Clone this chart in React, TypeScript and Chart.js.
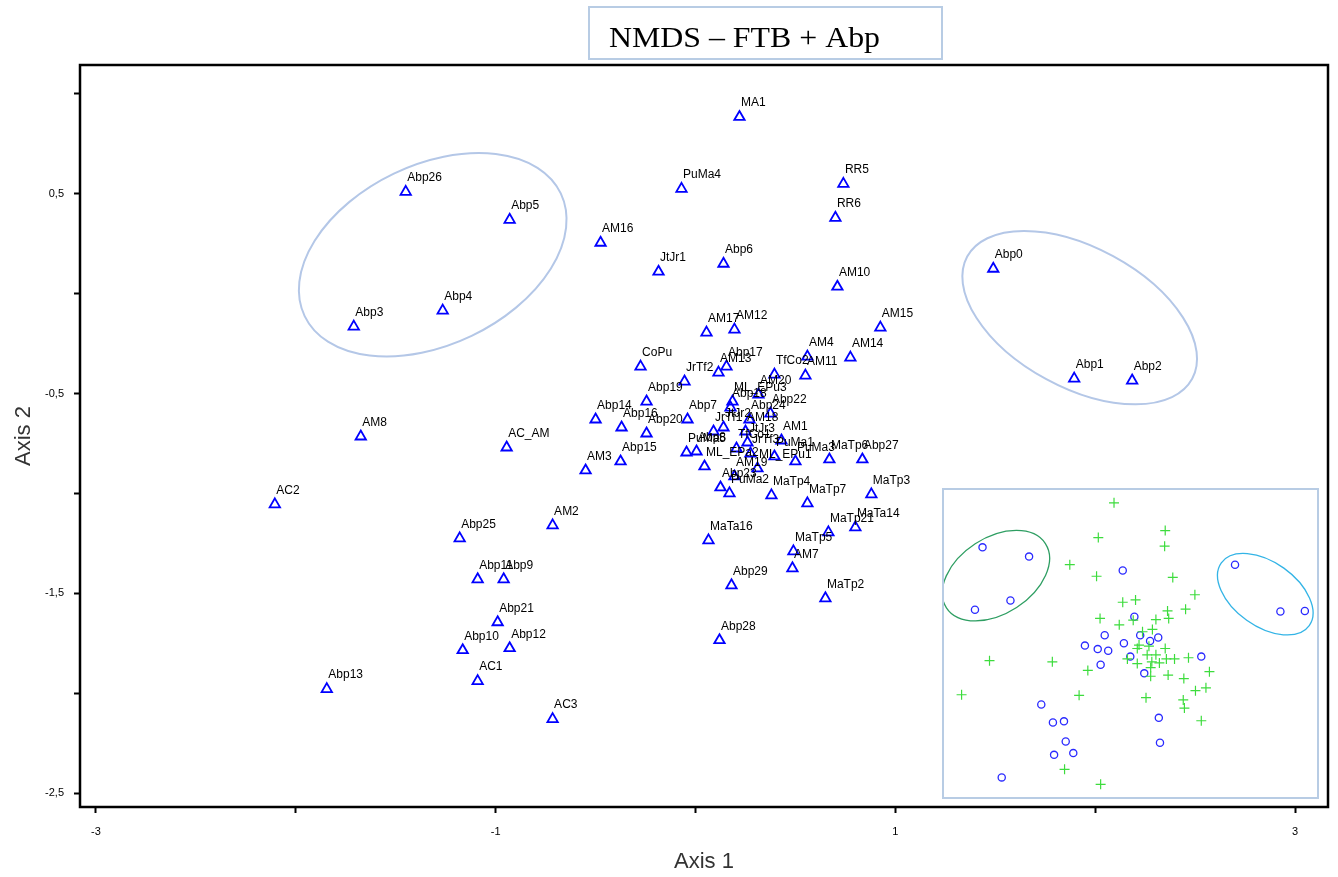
import React, { useEffect, useRef } from 'react';
import { Chart, registerables } from 'chart.js';
Chart.register(...registerables);

// ---------- main NMDS ordination (sites) ----------
const siteNames = [
  'MA1', 'PuMa4', 'RR5', 'RR6', 'Abp26', 'Abp5', 'AM16', 'JtJr1', 'Abp6', 'AM10',
  'Abp0', 'Abp4', 'Abp3', 'AM17', 'AM12', 'AM15', 'AM4', 'AM14', 'CoPu', 'Abp17',
  'AM13', 'TfCo2', 'AM11', 'Abp1', 'Abp2', 'JrTf2', 'Abp19', 'ML_EPu3', 'AM20', 'Abp18',
  'Abp22', 'Abp24', 'Abp14', 'Abp7', 'Abp16', 'JtJr2', 'AM18', 'JrTf1', 'Abp20', 'AM8',
  'AM1', 'JtJr3', 'AC_AM', 'TfCo1', 'PuMa5', 'Abp8', 'JrTf3', 'PuMa1', 'PuMa3', 'MaTp6',
  'Abp27', 'Abp15', 'ML_EPa2', 'ML_EPu1', 'AM3', 'AM19', 'Abp23', 'PuMa2', 'MaTp3', 'MaTp4',
  'MaTp7', 'AC2', 'AM2', 'MaTa14', 'MaTp21', 'Abp25', 'MaTa16', 'MaTp5', 'AM7', 'Abp11',
  'Abp9', 'Abp29', 'MaTp2', 'Abp21', 'Abp28', 'Abp12', 'Abp10', 'AC1', 'Abp13', 'AC3',
];
const axis1 = [
  0.22, -0.07, 0.74, 0.70, -1.45, -0.93, -0.475, -0.185, 0.14, 0.71,
  1.49, -1.265, -1.71, 0.055, 0.195, 0.925, 0.56, 0.775, -0.275, 0.155,
  0.115, 0.395, 0.55, 1.895, 2.185, -0.055, -0.245, 0.185, 0.315, 0.175,
  0.375, 0.27, -0.50, -0.04, -0.37, 0.14, 0.25, 0.09, -0.245, -1.675,
  0.43, 0.26, -0.945, 0.205, -0.045, 0.005, 0.275, 0.395, 0.50, 0.67,
  0.835, -0.375, 0.045, 0.31, -0.55, 0.195, 0.125, 0.17, 0.88, 0.38,
  0.56, -2.105, -0.715, 0.80, 0.665, -1.18, 0.065, 0.49, 0.485, -1.09,
  -0.96, 0.18, 0.65, -0.99, 0.12, -0.93, -1.165, -1.09, -1.845, -0.715,
];
const axis2 = [
  0.885, 0.525, 0.55, 0.38, 0.51, 0.37, 0.255, 0.11, 0.15, 0.035,
  0.125, -0.085, -0.165, -0.195, -0.18, -0.17, -0.315, -0.32, -0.365, -0.365,
  -0.395, -0.405, -0.41, -0.425, -0.435, -0.44, -0.54, -0.54, -0.505, -0.57,
  -0.60, -0.63, -0.63, -0.63, -0.67, -0.67, -0.69, -0.69, -0.70, -0.715,
  -0.735, -0.745, -0.77, -0.775, -0.795, -0.79, -0.80, -0.815, -0.84, -0.83,
  -0.83, -0.84, -0.865, -0.875, -0.885, -0.915, -0.97, -1.0, -1.005, -1.01,
  -1.05, -1.055, -1.16, -1.17, -1.195, -1.225, -1.235, -1.29, -1.375, -1.43,
  -1.43, -1.46, -1.525, -1.645, -1.735, -1.775, -1.785, -1.94, -1.98, -2.13,
];

const xTickValues = [-3, -2, -1, 0, 1, 2, 3];
const xTickLabels = ['-3', '', '-1', '', '1', '', '3'];
const yTickValues = [1, 0.5, 0, -0.5, -1, -1.5, -2, -2.5];
const yTickLabels = ['', '0,5', '', '-0,5', '', '-1,5', '', '-2,5'];

// ---------- inset ordination (circles = Abp, crosses = others) ----------
const insetCircleX = [
  -2.51, -1.71, -2.03, -2.64, -0.10, 1.83, 2.61, 3.03, 0.10, -0.41,
  0.20, 0.51, 0.37, -0.75, -0.53, -0.35, -0.08, 0.03, 1.25, -0.48,
  0.27, -1.50, -1.30, -1.11, 0.52, -1.08, -1.28, -0.95, 0.54, -2.18,
];
const insetCircleY = [
  1.78, 1.62, 0.86, 0.70, 1.38, 1.48, 0.67, 0.68, 0.58, 0.26,
  0.26, 0.22, 0.16, 0.08, 0.02, -0.01, 0.12, -0.11, -0.11, -0.25,
  -0.40, -0.94, -1.25, -1.23, -1.17, -1.58, -1.81, -1.78, -1.60, -2.20,
];
const insetPlusX = [
  -0.25, 0.63, 0.62, -0.52, -1.01, -0.55, 0.76, 1.14, -0.10, 0.12,
  0.98, 0.67, 0.69, 0.47, 0.08, -0.49, -0.16, 0.41, 0.24, 0.18,
  0.63, 0.35, 0.15, -0.02, 0.32, 0.47, 0.65, 0.79, 1.03, 0.40,
  0.53, 0.15, -2.39, -1.31, -0.70, 0.38, 0.38, 0.68, 0.95, 1.39,
  1.15, 1.33, -2.87, -0.85, 0.30, 0.94, 0.96, 1.25, -1.10, -0.48,
];
const insetPlusY = [
  2.55, 2.07, 1.80, 1.95, 1.48, 1.28, 1.26, 0.96, 0.83, 0.87,
  0.71, 0.68, 0.55, 0.53, 0.52, 0.55, 0.44, 0.36, 0.32, 0.09,
  0.03, 0.07, 0.03, -0.15, -0.08, -0.08, -0.15, -0.15, -0.13, -0.20,
  -0.22, -0.23, -0.18, -0.20, -0.35, -0.30, -0.45, -0.43, -0.49, -0.37,
  -0.70, -0.65, -0.77, -0.78, -0.82, -0.86, -1.00, -1.22, -2.06, -2.32,
];

// group outlines (centre in data units, radii in px, rotation in degrees)
const mainEllipses = [
  { cx: -1.315, cy: 0.195, rx: 142, ry: 90, rot: -25.6, color: '#b4c7e7' },
  { cx: 1.9225, cy: -0.12, rx: 128, ry: 70, rot: 28.5, color: '#b4c7e7' },
];
const insetEllipses = [
  { cx: -2.28, cy: 1.29, rx: 59, ry: 38, rot: -33, color: '#2e9e62' },
  { cx: 2.35, cy: 0.97, rx: 54, ry: 32, rot: 35.5, color: '#33b4e6' },
];

const W = 1338;
const H = 877;

function drawEllipses(chart: any, list: any[], lw: number) {
  const { ctx, scales } = chart;
  ctx.save();
  for (const e of list) {
    const cx = scales.x.getPixelForValue(e.cx);
    const cy = scales.y.getPixelForValue(e.cy);
    ctx.beginPath();
    ctx.ellipse(cx, cy, e.rx, e.ry, (e.rot * Math.PI) / 180, 0, Math.PI * 2);
    ctx.strokeStyle = e.color;
    ctx.lineWidth = lw;
    ctx.stroke();
  }
  ctx.restore();
}

export default function App() {
  const mainRef = useRef<HTMLCanvasElement>(null);
  const insetRef = useRef<HTMLCanvasElement>(null);

  useEffect(() => {
    const labelPlugin = {
      id: 'siteLabels',
      afterDatasetsDraw(chart: any) {
        const { ctx } = chart;
        const meta = chart.getDatasetMeta(0);
        ctx.save();
        ctx.font = '12px "Liberation Sans", Arial, sans-serif';
        ctx.fillStyle = '#000';
        ctx.textAlign = 'left';
        ctx.textBaseline = 'middle';
        meta.data.forEach((pt: any, i: number) => {
          ctx.fillText(siteNames[i], pt.x + 1.5, pt.y - 14);
        });
        ctx.restore();
        drawEllipses(chart, mainEllipses, 2);
      },
      afterDraw(chart: any) {
        const { ctx, chartArea } = chart;
        ctx.save();
        ctx.strokeStyle = '#000';
        ctx.lineWidth = 2.5;
        ctx.strokeRect(chartArea.left, chartArea.top, chartArea.right - chartArea.left, chartArea.bottom - chartArea.top);
        // title box
        ctx.fillStyle = '#fff';
        ctx.fillRect(589, 6, 353, 53);
        ctx.save();
        ctx.beginPath();
        ctx.rect(589, 7, 353, 52);
        ctx.clip();
        ctx.fillStyle = '#000';
        ctx.font = '30px "Liberation Serif", "Times New Roman", serif';
        ctx.textBaseline = 'alphabetic';
        ctx.textAlign = 'left';
        const txt = 'NMDS – FTB + Abp';
        const w = ctx.measureText(txt).width;
        ctx.translate(609, 47);
        ctx.scale(271 / w, 1);
        ctx.fillText(txt, 0, 0);
        ctx.restore();
        ctx.strokeStyle = '#b8cce4';
        ctx.lineWidth = 2;
        ctx.strokeRect(589, 7, 353, 52);
        ctx.restore();
      },
    };

    const main = new Chart(mainRef.current!, {
      type: 'scatter',
      data: {
        datasets: [
          {
            data: axis1.map((x, i) => ({ x, y: axis2[i] })),
            pointStyle: 'triangle',
            pointRadius: 6,
            pointHoverRadius: 6,
            borderColor: '#0000ff',
            backgroundColor: 'rgba(0,0,0,0)',
            borderWidth: 1.8,
          },
        ],
      },
      options: {
        responsive: false,
        animation: false,
        devicePixelRatio: 1,
        layout: { padding: { top: 65, right: 10, left: 0, bottom: 0 } },
        plugins: { legend: { display: false }, tooltip: { enabled: false } },
        scales: {
          x: {
            type: 'linear',
            min: -3.08,
            max: 3.165,
            afterBuildTicks: (s: any) => {
              s.ticks = xTickValues.map((v) => ({ value: v }));
            },
            afterFit: (s: any) => {
              s.height = 70;
            },
            ticks: {
              autoSkip: false,
              maxRotation: 0,
              padding: 12,
              color: '#000',
              font: { size: 11, family: '"Liberation Sans", Arial, sans-serif' },
              callback: (v: any) => {
                const idx = xTickValues.indexOf(Number(v));
                return idx >= 0 ? xTickLabels[idx] : '';
              },
            },
            grid: { drawOnChartArea: false, drawTicks: true, tickLength: 6, tickWidth: 2, tickColor: '#000' },
            border: { display: false },
            title: {
              display: true,
              text: 'Axis 1',
              color: '#333',
              font: { size: 22, family: '"Liberation Sans", Arial, sans-serif' },
              padding: { top: 0, bottom: 2 },
            },
          },
          y: {
            type: 'linear',
            min: -2.57,
            max: 1.145,
            afterBuildTicks: (s: any) => {
              s.ticks = yTickValues.map((v) => ({ value: v }));
            },
            afterFit: (s: any) => {
              s.width = 80;
            },
            ticks: {
              autoSkip: false,
              padding: 10,
              color: '#000',
              font: { size: 11, family: '"Liberation Sans", Arial, sans-serif' },
              callback: (v: any) => {
                const idx = yTickValues.indexOf(Number(v));
                return idx >= 0 ? yTickLabels[idx] : '';
              },
            },
            grid: { drawOnChartArea: false, drawTicks: true, tickLength: 6, tickWidth: 2, tickColor: '#000' },
            border: { display: false },
            title: {
              display: true,
              text: 'Axis 2',
              color: '#333',
              font: { size: 22, family: '"Liberation Sans", Arial, sans-serif' },
              padding: { top: 11, bottom: 0 },
            },
          },
        },
      },
      plugins: [labelPlugin],
    } as any);

    const insetPlugin = {
      id: 'insetDecor',
      beforeDraw(chart: any) {
        const { ctx, width, height } = chart;
        ctx.save();
        ctx.fillStyle = '#fff';
        ctx.fillRect(0, 0, width, height);
        ctx.restore();
      },
      afterDatasetsDraw(chart: any) {
        drawEllipses(chart, insetEllipses, 1.3);
      },
      afterDraw(chart: any) {
        const { ctx, width, height } = chart;
        ctx.save();
        ctx.strokeStyle = '#b8cce4';
        ctx.lineWidth = 2;
        ctx.strokeRect(1, 1, width - 2, height - 2);
        ctx.restore();
      },
    };

    const inset = new Chart(insetRef.current!, {
      type: 'scatter',
      data: {
        datasets: [
          {
            data: insetPlusX.map((x, i) => ({ x, y: insetPlusY[i] })),
            pointStyle: 'cross',
            pointRadius: 5,
            borderColor: '#3ddc3d',
            borderWidth: 1.2,
          },
          {
            data: insetCircleX.map((x, i) => ({ x, y: insetCircleY[i] })),
            pointStyle: 'circle',
            pointRadius: 3.6,
            borderColor: '#2a2aff',
            backgroundColor: 'rgba(0,0,0,0)',
            borderWidth: 1.3,
          },
        ],
      },
      options: {
        responsive: false,
        animation: false,
        devicePixelRatio: 1,
        layout: { padding: 0 },
        plugins: { legend: { display: false }, tooltip: { enabled: false } },
        scales: {
          x: { type: 'linear', display: false, min: -3.1, max: 3.1667 },
          y: { type: 'linear', display: false, min: -2.4667, max: 2.7 },
        },
      },
      plugins: [insetPlugin],
    } as any);

    return () => {
      main.destroy();
      inset.destroy();
    };
  }, []);

  return (
    <div style={{ position: 'absolute', left: 0, top: 0, width: W, height: H, background: '#fff' }}>
      <canvas ref={mainRef} width={W} height={H} style={{ position: 'absolute', left: 0, top: 0, width: W, height: H }} />
      <canvas
        ref={insetRef}
        width={377}
        height={311}
        style={{ position: 'absolute', left: 942, top: 488, width: 377, height: 311 }}
      />
    </div>
  );
}
